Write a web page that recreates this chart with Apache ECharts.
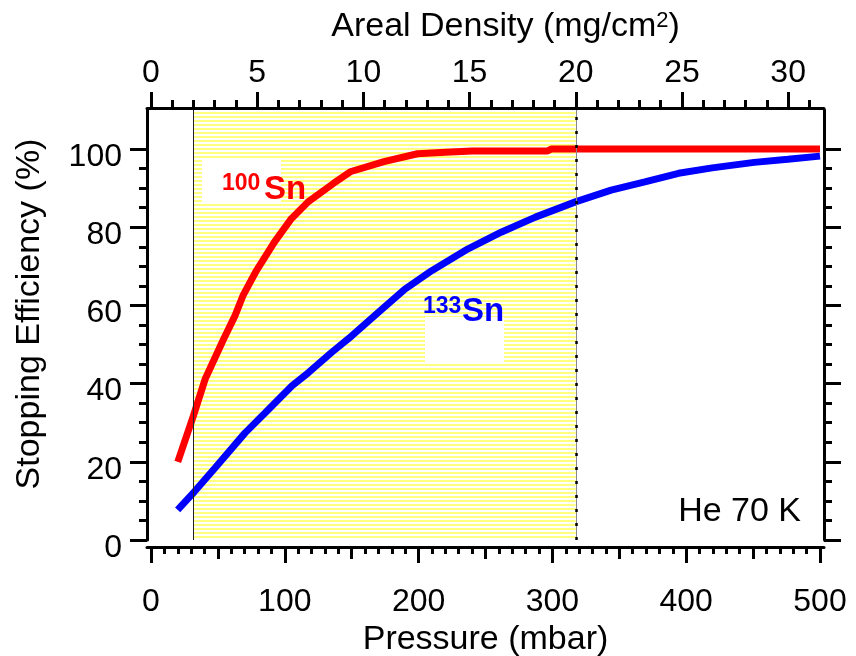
<!DOCTYPE html>
<html>
<head>
<meta charset="utf-8">
<script src="https://cdn.jsdelivr.net/npm/echarts@6/dist/echarts.min.js"></script>
<style>
  html, body { margin: 0; padding: 0; background: #fff; }
  #chart { width: 856px; height: 656px; }
</style>
</head>
<body>
<div id="chart"></div>
<script>
// Stopping efficiency of Sn isotopes in helium gas at 70 K
const pressure100Sn   = [20, 31.6, 40.4, 54.3, 62.8, 68.7, 78.1, 92.2, 104.9, 117.4, 136.3, 148.9, 174.1, 199.2, 220, 240, 265, 296, 299, 350, 400, 450, 500];
const efficiency100Sn = [20.0, 31.7, 41.1, 51.4, 57.4, 62.5, 68.5, 76.2, 82.2, 86.5, 91.2, 94.2, 96.8, 98.8, 99.2, 99.5, 99.5, 99.5, 100.0, 100.0, 100.0, 100.0, 100.0];

const pressure133Sn   = [19.9, 32.5, 47.8, 70.3, 85.2, 105.2, 117.6, 135.0, 150.0, 169.9, 189.8, 209.8, 237.0, 262.1, 287.3, 317.2, 343.9, 369.1, 394.3, 419.4, 450.8, 476.0, 500];
const efficiency133Sn = [7.7, 12.4, 18.4, 27.4, 32.5, 39.4, 42.8, 48.0, 52.2, 58.2, 64.2, 68.9, 74.5, 78.8, 82.6, 86.5, 89.5, 91.6, 93.8, 95.2, 96.6, 97.4, 98.2];

// Tick labels
const pressureTicks   = [0, 100, 200, 300, 400, 500];
const densityTicks    = [0, 5, 10, 15, 20, 25, 30];
const efficiencyTicks = [0, 20, 40, 60, 80, 100];

// Highlighted areal-density window (mg/cm^2)
const densityWindow = [2, 20];

// Areal density of He at 70 K per mbar of pressure (mg/cm^2 per mbar)
const densityPerMbar = 0.063;

const FONT = '"Liberation Sans", Arial, Helvetica, sans-serif';
const BLACK = '#000';

function steps(from, to, step) {
  const out = [];
  for (let v = from; v <= to + 1e-9; v += step) out.push(+v.toFixed(6));
  return out;
}
function zip(xs, ys) { return xs.map((x, i) => [x, ys[i]]); }

// Horizontal yellow pin-stripe fill
const stripe = document.createElement('canvas');
stripe.width = 4; stripe.height = 4;
(function () {
  const c = stripe.getContext('2d');
  c.fillStyle = '#ffffff'; c.fillRect(0, 0, 4, 4);
  c.fillStyle = '#ffff80'; c.fillRect(0, 0, 4, 2);
})();

const pressureMin = -3, pressureMax = 503;

const chart = echarts.init(document.getElementById('chart'), null, { renderer: 'canvas' });

const axisLine = { show: true, onZero: false, lineStyle: { color: BLACK, width: 3 } };
const noLine = { show: false, onZero: false };
const noLabel = { show: false };
const tickLabelStyle = { color: BLACK, fontFamily: FONT, fontSize: 32 };

function tickOnlyAxis(base, values, len) {
  return Object.assign({}, base, {
    axisLine: noLine,
    axisLabel: noLabel,
    splitLine: { show: false },
    axisTick: { show: true, customValues: values, length: len, lineStyle: { color: BLACK, width: 3 } }
  });
}

const pressureBase = { type: 'value', gridIndex: 0, position: 'bottom', offset: 7, min: pressureMin, max: pressureMax };
const densityBase = { type: 'value', gridIndex: 0, position: 'top', offset: 2,
  min: pressureMin * densityPerMbar, max: pressureMax * densityPerMbar };
const effLeftBase = { type: 'value', gridIndex: 0, position: 'left', offset: 0, min: 0, max: 110 };
const effRightBase = { type: 'value', gridIndex: 0, position: 'right', offset: 0, min: 0, max: 110 };

const option = {
  animation: false,
  backgroundColor: '#fff',
  grid: { left: 147, right: 32, top: 110, bottom: 116, containLabel: false, outerBoundsMode: 'none' },
  xAxis: [
    Object.assign({}, pressureBase, {
      name: 'Pressure (mbar)',
      nameLocation: 'middle',
      nameGap: 75,
      nameTextStyle: { color: BLACK, fontFamily: FONT, fontSize: 34 },
      axisLine: axisLine,
      splitLine: { show: false },
      axisTick: { show: true, customValues: pressureTicks, length: 16, lineStyle: { color: BLACK, width: 3 } },
      axisLabel: Object.assign({ customValues: pressureTicks, margin: 39 }, tickLabelStyle)
    }),
    tickOnlyAxis(pressureBase, steps(50, 450, 100), 12),
    tickOnlyAxis(pressureBase, steps(0, 500, 10), 7),
    Object.assign({}, densityBase, {
      name: 'Areal Density (mg/cm{s|2})',
      nameLocation: 'middle',
      nameGap: 64,
      nameTextStyle: {
        color: BLACK, fontFamily: FONT, fontSize: 34, padding: [0, 0, 0, 40],
        rich: { s: { color: BLACK, fontFamily: FONT, fontSize: 22, verticalAlign: 'top' } }
      },
      axisLine: axisLine,
      splitLine: { show: false },
      axisTick: { show: true, customValues: densityTicks, length: 16, lineStyle: { color: BLACK, width: 3 } },
      axisLabel: Object.assign({ customValues: densityTicks, margin: 19 }, tickLabelStyle)
    }),
    tickOnlyAxis(densityBase, steps(0, 31, 1), 8)
  ],
  yAxis: [
    Object.assign({}, effLeftBase, {
      name: 'Stopping Efficiency (%)',
      nameLocation: 'middle',
      nameGap: 100,
      nameTextStyle: { color: BLACK, fontFamily: FONT, fontSize: 34, padding: [0, 0, 0, 22] },
      axisLine: axisLine,
      splitLine: { show: false },
      axisTick: { show: true, customValues: efficiencyTicks, length: 17, lineStyle: { color: BLACK, width: 3 } },
      axisLabel: Object.assign({ customValues: efficiencyTicks, margin: 25, verticalAlign: 'top', lineHeight: 16 }, tickLabelStyle)
    }),
    tickOnlyAxis(effLeftBase, steps(0, 100, 5), 8),
    Object.assign({}, effRightBase, {
      axisLine: axisLine,
      splitLine: { show: false },
      axisLabel: noLabel,
      axisTick: { show: true, customValues: efficiencyTicks, length: 17, lineStyle: { color: BLACK, width: 3 } }
    }),
    tickOnlyAxis(effRightBase, steps(0, 100, 5), 8)
  ],
  series: [
    {
      // shaded areal-density window with its two boundary lines
      name: 'window',
      type: 'line',
      xAxisIndex: 3,
      yAxisIndex: 0,
      data: [],
      z: 1,
      silent: true,
      markArea: {
        silent: true,
        itemStyle: { color: { image: stripe, repeat: 'repeat' }, opacity: 1 },
        data: [[{ xAxis: densityWindow[0] }, { xAxis: densityWindow[1] }]]
      },
      markLine: {
        silent: true,
        symbol: 'none',
        label: { show: false },
        data: [
          { xAxis: densityWindow[0], lineStyle: { color: '#222', width: 1, type: 'solid' } },
          { xAxis: densityWindow[1], lineStyle: { color: '#888', width: 1, type: 'solid' } },
          { xAxis: densityWindow[1], lineStyle: { color: '#000', width: 2.5, type: [3, 11] } }
        ]
      }
    },
    {
      name: '100Sn',
      type: 'line',
      xAxisIndex: 0,
      yAxisIndex: 0,
      z: 3,
      showSymbol: false,
      symbol: 'none',
      data: zip(pressure100Sn, efficiency100Sn),
      lineStyle: { color: '#ff0000', width: 7, cap: 'butt', join: 'bevel' }
    },
    {
      name: '133Sn',
      type: 'line',
      xAxisIndex: 0,
      yAxisIndex: 0,
      z: 3,
      showSymbol: false,
      symbol: 'none',
      data: zip(pressure133Sn, efficiency133Sn),
      lineStyle: { color: '#0000ff', width: 7, cap: 'butt', join: 'bevel' }
    }
  ],
  graphic: [
    { type: 'rect', z: 2, shape: { x: 202, y: 158, width: 79, height: 44 }, style: { fill: '#fff' } },
    { type: 'rect', z: 2, shape: { x: 425, y: 317, width: 79, height: 45 }, style: { fill: '#fff' } },
    { type: 'text', z: 5, x: 222, y: 183.5,
      style: { text: '100', fill: '#ff0000', fontFamily: FONT, fontWeight: 'bold', fontSize: 23, align: 'left', verticalAlign: 'middle' } },
    { type: 'text', z: 5, x: 264, y: 189.5,
      style: { text: 'Sn', fill: '#ff0000', fontFamily: FONT, fontWeight: 'bold', fontSize: 33, align: 'left', verticalAlign: 'middle' } },
    { type: 'text', z: 5, x: 423, y: 306.5,
      style: { text: '133', fill: '#0000ff', fontFamily: FONT, fontWeight: 'bold', fontSize: 23, align: 'left', verticalAlign: 'middle' } },
    { type: 'text', z: 5, x: 462, y: 311.5,
      style: { text: 'Sn', fill: '#0000ff', fontFamily: FONT, fontWeight: 'bold', fontSize: 33, align: 'left', verticalAlign: 'middle' } },
    { type: 'text', z: 5, x: 801, y: 512,
      style: { text: 'He 70 K', fill: BLACK, fontFamily: FONT, fontSize: 34, align: 'right', verticalAlign: 'middle' } }
  ]
};

chart.setOption(option);
</script>
</body>
</html>
